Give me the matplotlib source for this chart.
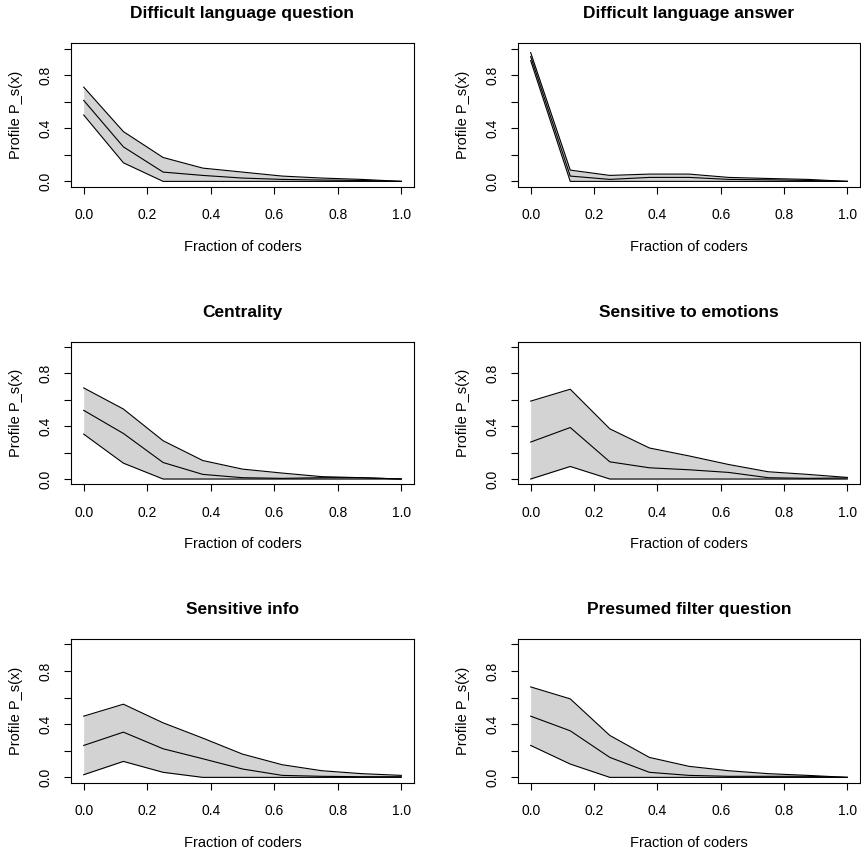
import numpy as np
import matplotlib
matplotlib.use("Agg")
import matplotlib.pyplot as plt

plt.rcParams['font.family'] = ['Liberation Sans', 'DejaVu Sans']

# fraction of coders (8 coders -> 9 points)
frac = [0.0, 0.125, 0.25, 0.375, 0.5, 0.625, 0.75, 0.875, 1.0]

titles = ["Difficult language question", "Difficult language answer",
          "Centrality", "Sensitive to emotions",
          "Sensitive info", "Presumed filter question"]

# profile estimate and band (upper / lower)
lang_q_mid = [0.61, 0.26, 0.07, 0.045, 0.025, 0.015, 0.01, 0.007, 0.0]
lang_q_hi = [0.71, 0.375, 0.18, 0.10, 0.07, 0.04, 0.025, 0.015, 0.0]
lang_q_lo = [0.50, 0.14, 0.0, 0.0, 0.0, 0.0, 0.0, 0.0, 0.0]

lang_a_mid = [0.94, 0.04, 0.015, 0.03, 0.03, 0.015, 0.012, 0.007, 0.0]
lang_a_hi = [0.97, 0.085, 0.045, 0.055, 0.055, 0.03, 0.022, 0.015, 0.0]
lang_a_lo = [0.91, 0.0, 0.0, 0.0, 0.0, 0.0, 0.0, 0.0, 0.0]

central_mid = [0.52, 0.345, 0.125, 0.035, 0.01, 0.005, 0.01, 0.01, 0.0]
central_hi = [0.69, 0.53, 0.29, 0.14, 0.075, 0.045, 0.018, 0.01, 0.0]
central_lo = [0.34, 0.12, 0.0, 0.0, 0.0, 0.0, 0.0, 0.0, 0.0]

emot_mid = [0.28, 0.39, 0.13, 0.085, 0.07, 0.05, 0.01, 0.005, 0.008]
emot_hi = [0.59, 0.68, 0.38, 0.235, 0.175, 0.11, 0.055, 0.035, 0.012]
emot_lo = [0.0, 0.095, 0.0, 0.0, 0.0, 0.0, 0.0, 0.0, 0.0]

info_mid = [0.24, 0.34, 0.215, 0.14, 0.063, 0.015, 0.008, 0.005, 0.005]
info_hi = [0.46, 0.55, 0.41, 0.295, 0.175, 0.095, 0.05, 0.028, 0.015]
info_lo = [0.02, 0.12, 0.038, 0.0, 0.0, 0.0, 0.0, 0.0, 0.0]

filt_mid = [0.46, 0.35, 0.15, 0.038, 0.015, 0.008, 0.008, 0.008, 0.0]
filt_hi = [0.68, 0.59, 0.315, 0.15, 0.083, 0.05, 0.028, 0.015, 0.0]
filt_lo = [0.24, 0.10, 0.0, 0.0, 0.0, 0.0, 0.0, 0.0, 0.0]

panels = [(lang_q_mid, lang_q_hi, lang_q_lo), (lang_a_mid, lang_a_hi, lang_a_lo),
          (central_mid, central_hi, central_lo), (emot_mid, emot_hi, emot_lo),
          (info_mid, info_hi, info_lo), (filt_mid, filt_hi, filt_lo)]

W, H = 861, 855
fig = plt.figure(figsize=(W / 100, H / 100), dpi=100)

# axes boxes in pixels (left, top, right, bottom)
cols = [(71, 414), (518, 860)]
rows = [(43.3, 186.7), (341.7, 484.3), (639, 782.7)]

lw = 0.8
for i, (title, (mid, hi, lo)) in enumerate(zip(titles, panels)):
    l, r = cols[i % 2]
    t, b = rows[i // 2]
    ax = fig.add_axes([l / W, 1 - b / H, (r - l) / W, (b - t) / H])
    ax.fill_between(frac, lo, hi, color='#d3d3d3', lw=0)
    ax.plot(frac, hi, color='black', lw=lw)
    ax.plot(frac, mid, color='black', lw=lw)
    ax.plot(frac, lo, color='black', lw=lw)
    ax.set_xlim(-0.04, 1.04)
    ax.set_ylim(-0.04, 1.04)
    ax.set_xticks(np.arange(0, 1.01, 0.2))
    ax.set_xticklabels(["0.0", "0.2", "0.4", "0.6", "0.8", "1.0"])
    ax.set_yticks(np.arange(0, 1.01, 0.2))
    ax.set_yticklabels(["0.0", "", "0.4", "", "0.8", ""], rotation=90, va='center')
    ax.tick_params(axis='x', length=5, width=lw, pad=10.5, labelsize=10)
    ax.tick_params(axis='y', length=5, width=lw, pad=8.5, labelsize=10)
    for s in ax.spines.values():
        s.set_linewidth(lw)
    ax.set_title(title, fontsize=12.5, fontweight='bold', pad=18)
    ax.set_xlabel("Fraction of coders", fontsize=10.5)
    ax.xaxis.set_label_coords(0.5, -0.372)
    ax.set_ylabel("Profile P_s(x)", fontsize=10.5)
    ax.yaxis.set_label_coords(-0.14, 0.5)

fig.savefig("out.png", dpi=100)
